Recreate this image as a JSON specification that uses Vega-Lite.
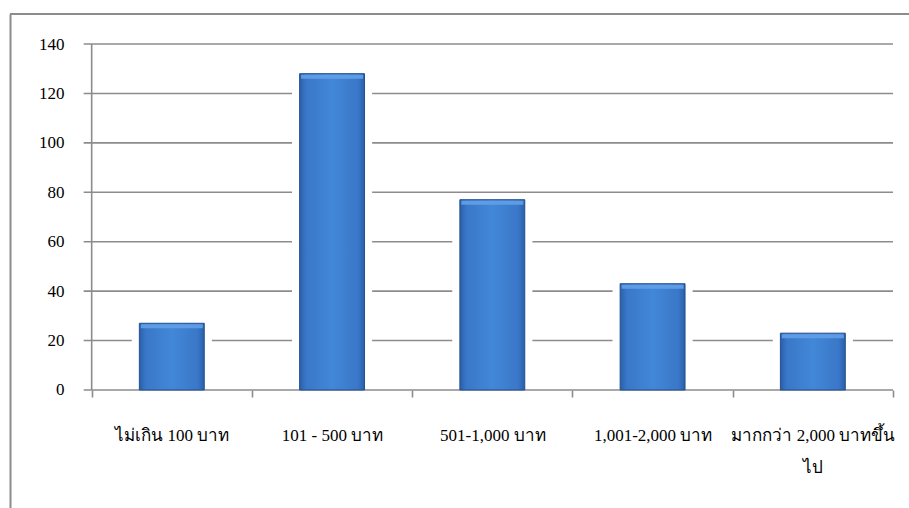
{
  "$schema": "https://vega.github.io/schema/vega-lite/v6.json",
  "width": 899,
  "height": 494,
  "autosize": {"type": "none"},
  "padding": {"left": 10, "top": 14, "right": 0, "bottom": 0},
  "background": "white",
  "config": {
    "view": {"stroke": null},
    "font": "'Liberation Serif', serif",
    "axis": {"labelFont": "'Liberation Serif', serif", "labelColor": "#000000", "labelFontSize": 17, "title": null}
  },
  "datasets": {
    "spend": [
      {"range": "ไม่เกิน 100 บาท", "count": 27},
      {"range": "101 - 500 บาท", "count": 128},
      {"range": "501-1,000 บาท", "count": 77},
      {"range": "1,001-2,000 บาท", "count": 43},
      {"range": "มากกว่า 2,000 บาทขึ้นไป", "count": 23}
    ],
    "grid": [{"v": 20}, {"v": 40}, {"v": 60}, {"v": 80}, {"v": 100}, {"v": 120}, {"v": 140}],
    "one": [{}]
  },
  "layer": [
    {
      "data": {"name": "grid"},
      "mark": {"type": "rule", "color": "#8c8c8c", "strokeWidth": 1.6, "xOffset": -8},
      "encoding": {
        "y": {
          "field": "v",
          "type": "quantitative",
          "scale": {"domain": [-47.746, 152.139], "nice": false, "zero": false},
          "axis": {
            "values": [0, 20, 40, 60, 80, 100, 120, 140],
            "domain": true,
            "domainColor": "#8c8c8c",
            "domainWidth": 2,
            "ticks": false,
            "tickSize": 0,
            "labelPadding": -54,
            "grid": false
          }
        },
        "x": {
          "datum": "ไม่เกิน 100 บาท",
          "type": "nominal",
          "bandPosition": 0,
          "scale": {
            "domain": ["ไม่เกิน 100 บาท", "101 - 500 บาท", "501-1,000 บาท", "1,001-2,000 บาท", "มากกว่า 2,000 บาทขึ้นไป"],
            "paddingInner": 0,
            "paddingOuter": 0.3048,
            "align": 0.836
          }
        },
        "x2": {"datum": "มากกว่า 2,000 บาทขึ้นไป", "bandPosition": 1}
      }
    },
    {
      "data": {"name": "spend"},
      "mark": {"type": "bar", "color": "white", "width": {"band": 0.5}},
      "encoding": {
        "x": {"field": "range", "type": "nominal", "sort": null},
        "y": {"field": "count", "type": "quantitative"},
        "y2": {"datum": 0}
      }
    },
    {
      "data": {"name": "one"},
      "mark": {"type": "rule", "color": "#8c8c8c", "strokeWidth": 1.6, "xOffset": -8},
      "encoding": {
        "x": {"datum": "ไม่เกิน 100 บาท", "type": "nominal", "bandPosition": 0},
        "x2": {"datum": "มากกว่า 2,000 บาทขึ้นไป", "bandPosition": 1},
        "y": {"datum": 0, "type": "quantitative"}
      }
    },
    {
      "data": {"name": "one"},
      "mark": {"type": "rule", "color": "#8c8c8c", "strokeWidth": 1.6},
      "encoding": {
        "x": {"datum": "ไม่เกิน 100 บาท", "type": "nominal", "bandPosition": 0},
        "y": {"datum": 0, "type": "quantitative"},
        "y2": {"datum": 140}
      }
    },
    {
      "data": {"name": "one"},
      "mark": {"type": "rule", "color": "#8c8c8c", "strokeWidth": 2},
      "encoding": {
        "y": {"datum": 152.139, "type": "quantitative"}
      }
    },
    {
      "data": {"name": "spend"},
      "mark": {
        "type": "bar",
        "width": {"band": 0.405},
        "stroke": "#23508f",
        "strokeWidth": 1,
        "color": {
          "gradient": "linear",
          "x1": 0, "y1": 0, "x2": 1, "y2": 0,
          "stops": [
            {"offset": 0, "color": "#2a5fa8"},
            {"offset": 0.1, "color": "#3a77c8"},
            {"offset": 0.5, "color": "#4287d8"},
            {"offset": 0.9, "color": "#3a77c8"},
            {"offset": 1, "color": "#2a5fa8"}
          ]
        }
      },
      "encoding": {
        "x": {
          "field": "range",
          "type": "nominal",
          "sort": null,
          "axis": {
            "orient": "bottom",
            "offset": -118,
            "domain": false,
            "tickBand": "extent",
            "ticks": true,
            "tickSize": 7,
            "tickColor": "#8c8c8c",
            "tickWidth": 1.6,
            "labelAngle": 0,
            "labelAlign": "center",
            "labelPadding": 38,
            "labelLineHeight": 32,
            "labelOverlap": false,
            "labelLimit": 0,
            "labelBound": false,
            "labelExpr": "datum.label == 'มากกว่า 2,000 บาทขึ้นไป' ? ['มากกว่า 2,000 บาทขึ้น', 'ไป'] : datum.label"
          }
        },
        "y": {"field": "count", "type": "quantitative"},
        "y2": {"datum": 0}
      }
    },
    {
      "data": {"name": "spend"},
      "mark": {"type": "tick", "color": "#62a0e8", "thickness": 4, "size": 62, "yOffset": 3, "opacity": 0.9},
      "encoding": {
        "x": {"field": "range", "type": "nominal", "sort": null},
        "y": {"field": "count", "type": "quantitative"}
      }
    }
  ]
}
